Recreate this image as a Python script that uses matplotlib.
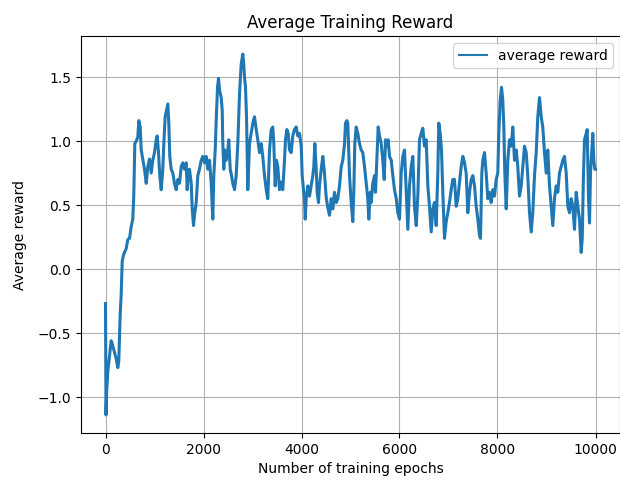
import matplotlib
matplotlib.use("Agg")
import matplotlib.pyplot as plt
from matplotlib.lines import Line2D

# Training epochs at which the running average was sampled
epochs = [
    0, 10, 25, 47, 82, 116, 149, 184, 218, 251, 271, 300, 320, 341, 367, 388, 422, 455, 490,
    524, 557, 578, 598, 627, 659, 680, 708, 729, 761, 796, 831, 863, 898,
    933, 965, 1000, 1035, 1055, 1082, 1108, 1137, 1169, 1190, 1218, 1245, 1272, 1292, 1312,
    1341, 1374, 1408, 1443, 1476, 1510, 1545, 1578, 1612, 1647, 1667, 1694, 1714, 1749,
    1770, 1796, 1816,
    1851, 1884, 1918, 1953, 1986, 2021, 2055, 2088, 2123, 2157, 2190, 2210, 2239, 2259,
    2286, 2306, 2327, 2361, 2382, 2394, 2414, 2435, 2463, 2496, 2516, 2545, 2572, 2598,
    2633, 2667, 2700,
    2735, 2769, 2802, 2822, 2837, 2857, 2878, 2904, 2939, 2973, 3006, 3041, 3076, 3108,
    3143, 3178, 3210, 3245, 3280, 3312, 3347, 3382, 3414, 3435, 3463, 3490, 3516, 3551,
    3586, 3618, 3653,
    3673, 3700, 3729, 3755, 3790, 3822, 3857, 3892, 3925, 3959, 3994, 4014, 4041, 4061,
    4076, 4096, 4129, 4164, 4198, 4231, 4251, 4272, 4300, 4320, 4347, 4367, 4402, 4435,
    4469, 4504, 4537, 4571,
    4606, 4639, 4673, 4708, 4741, 4776, 4810, 4843, 4878, 4898, 4925, 4945, 4959, 4980,
    5014, 5047, 5067, 5088, 5116, 5149, 5184, 5218, 5251, 5286, 5320, 5353, 5374, 5402,
    5422, 5455, 5490,
    5510, 5537, 5565, 5592, 5627, 5659, 5688, 5714, 5741, 5769, 5796, 5831, 5864, 5898,
    5933, 5966, 6000, 6035, 6068, 6102, 6137, 6170, 6204, 6239, 6272, 6306, 6341, 6374,
    6408, 6443, 6476, 6510, 6545, 6578, 6612, 6647, 6680, 6714, 6749, 6782, 6802, 6831,
    6857, 6884, 6918, 6953, 6986, 7020, 7055, 7088, 7122, 7157, 7190, 7224, 7259, 7292,
    7327, 7361, 7394, 7429, 7463, 7496, 7531, 7565, 7598,
    7633, 7653, 7680, 7700, 7735, 7769, 7802, 7837, 7871, 7904, 7939, 7973, 8006, 8027,
    8055, 8082, 8108, 8129, 8149, 8178, 8210, 8245, 8280, 8312, 8347, 8382, 8414, 8449,
    8484, 8516, 8551, 8586, 8618, 8653, 8688, 8720, 8755, 8790, 8822, 8857, 8892, 8924,
    8959, 8994, 9026, 9061, 9096, 9129, 9163, 9198, 9231, 9265, 9300, 9333, 9367, 9402,
    9435, 9469, 9504, 9537, 9571, 9606, 9639, 9673, 9708, 9729, 9755, 9776, 9810, 9831,
    9857, 9878, 9898, 9924, 9945, 9965, 9986, 10000,
]

# Running average of the episode reward
avg_reward = [
    -0.27, -1.14, -0.95, -0.80, -0.68, -0.56, -0.60, -0.65, -0.70, -0.77, -0.72, -0.35, -0.20,
    0.06, 0.11, 0.13, 0.16, 0.23, 0.24, 0.33, 0.39, 0.59, 0.98, 1.00, 1.03, 1.16, 1.11,
    0.93, 0.86, 0.78, 0.67, 0.80, 0.86,
    0.75, 0.85, 0.91, 1.01, 1.04, 0.91, 0.73, 0.62, 0.78, 0.98, 1.19, 1.24, 1.29, 1.14, 0.88,
    0.78, 0.75, 0.67, 0.62, 0.70, 0.67, 0.80, 0.83, 0.78, 0.83, 0.62, 0.75, 0.78, 0.67,
    0.47, 0.34, 0.42,
    0.52, 0.73, 0.78, 0.85, 0.88, 0.83, 0.88, 0.78, 0.85, 0.67, 0.39, 0.73, 0.93, 1.16,
    1.42, 1.49, 1.40, 1.34, 1.24, 0.98, 0.78, 0.93, 0.85, 0.93, 1.01, 0.78, 0.73, 0.67,
    0.62, 0.73, 0.98,
    1.37, 1.60, 1.68, 1.60, 1.50, 1.42, 1.19, 0.62, 0.98, 1.06, 1.14, 1.19, 1.09, 1.01,
    0.91, 0.98, 0.88, 0.73, 0.62, 0.55, 0.93, 1.09, 1.11, 0.98, 0.65, 0.85, 0.80, 0.62,
    0.68, 0.62, 0.85,
    1.01, 1.09, 1.06, 0.93, 0.91, 1.04, 1.09, 1.11, 1.04, 1.06, 0.96, 0.73, 0.62, 0.55,
    0.39, 0.55, 0.65, 0.57, 0.65, 0.73, 0.80, 0.98, 0.78, 0.60, 0.52, 0.65, 0.78, 0.88,
    0.75, 0.56, 0.48, 0.42,
    0.55, 0.47, 0.60, 0.52, 0.55, 0.65, 0.80, 0.85, 0.98, 1.14, 1.16, 1.14, 0.98, 0.73,
    0.52, 0.37, 0.60, 0.98, 1.11, 1.06, 0.98, 0.93, 0.91, 0.80, 0.67, 0.55, 0.39, 0.60,
    0.52, 0.67, 0.73,
    0.60, 0.85, 1.11, 1.04, 0.98, 0.85, 0.70, 1.01, 0.96, 1.01, 0.88, 0.85, 0.73, 0.62,
    0.55, 0.44, 0.39, 0.75, 0.88, 0.93, 0.60, 0.31, 0.65, 0.80, 0.88, 0.49, 0.34, 0.57,
    1.01, 1.06, 1.10, 0.96, 1.01, 0.65, 0.49, 0.29, 0.47, 0.52, 0.34, 0.75, 1.14, 1.06,
    0.93, 0.60, 0.24, 0.37, 0.44, 0.52, 0.62, 0.70, 0.70, 0.49, 0.55, 0.67, 0.80, 0.88,
    0.83, 0.75, 0.44, 0.60, 0.70, 0.73, 0.65, 0.49, 0.39,
    0.26, 0.24, 0.75, 0.85, 0.91, 0.75, 0.55, 0.60, 0.52, 0.62, 0.57, 0.70, 0.75, 1.06,
    1.32, 1.42, 1.32, 1.11, 0.75, 0.47, 0.85, 1.01, 0.96, 1.11, 0.85, 0.93, 0.80, 0.57,
    0.65, 0.80, 0.96, 0.91, 0.73, 0.44, 0.29, 0.44, 0.73, 0.91, 1.19, 1.34, 1.19, 1.11,
    0.91, 0.75, 0.93, 0.65, 0.49, 0.34, 0.55, 0.65, 0.60, 0.75, 0.80, 0.85, 0.88, 0.75,
    0.49, 0.44, 0.55, 0.49, 0.31, 0.60, 0.49, 0.39, 0.13, 0.24, 0.75, 1.01, 1.06, 1.09,
    0.55, 0.36, 0.75, 0.93, 1.06, 0.85, 0.78, 0.78,
]

line_color = "#1f77b4"

fig = plt.figure(figsize=(6.2, 4.82), dpi=100)
ax = fig.add_axes([81 / 620, 49 / 482, 539 / 620, 397 / 482])

ax.plot(epochs, avg_reward, color=line_color, linewidth=2.2)

ax.set_title("Average Training Reward", fontsize=12)
ax.set_xlabel("Number of training epochs")
ax.set_ylabel("Average reward", labelpad=8)
ax.set_xticks([0, 2000, 4000, 6000, 8000, 10000])
ax.set_yticks([-1.0, -0.5, 0.0, 0.5, 1.0, 1.5])
ax.grid(True)

# Legend key drawn at the standard line width
handle = Line2D([], [], color=line_color, linewidth=1.5)
ax.legend([handle], ["average reward"], loc="upper right")

fig.savefig("out.png", dpi=100)
